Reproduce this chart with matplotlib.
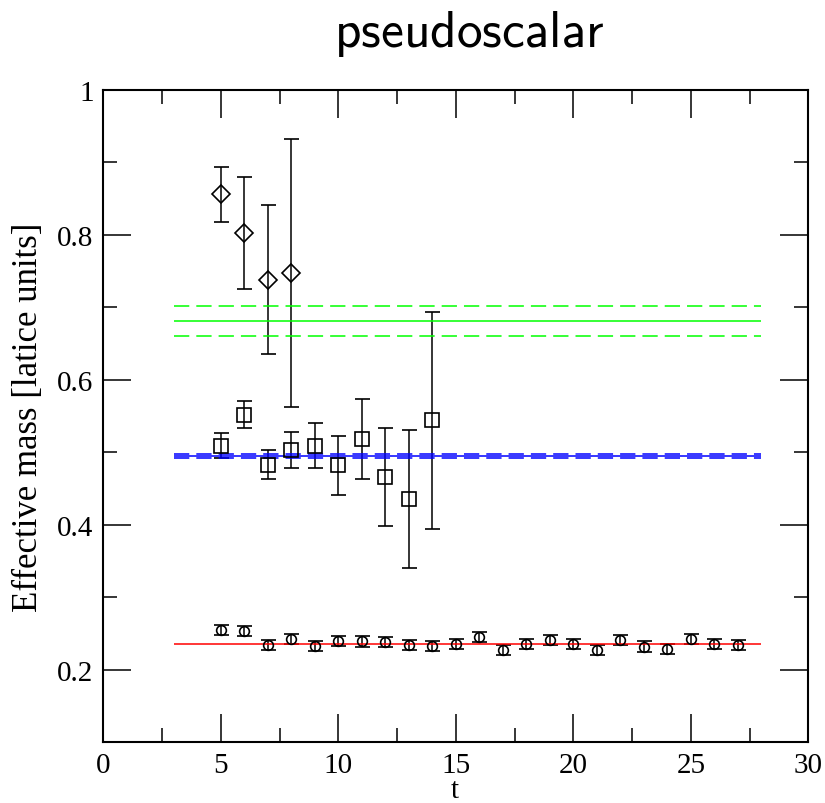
import numpy as np
import matplotlib
matplotlib.use("Agg")
import matplotlib.pyplot as plt
from matplotlib.ticker import MultipleLocator

# ── Data ──────────────────────────────────────────────────────────────────────
t_diamond = [5, 6, 7, 8]
m_diamond = [0.856, 0.802, 0.738, 0.747]
e_diamond = [0.038, 0.077, 0.103, 0.185]

t_square = [5, 6, 7, 8, 9, 10, 11, 12, 13, 14]
m_square = [0.509, 0.552, 0.483, 0.503, 0.509, 0.482, 0.518, 0.466, 0.435, 0.544]
e_square = [0.017, 0.018, 0.020, 0.025, 0.031, 0.041, 0.055, 0.068, 0.095, 0.150]

t_circle = list(range(5, 28))
m_circle = [0.255, 0.253, 0.234, 0.242, 0.233, 0.240, 0.239, 0.238, 0.234, 0.233,
            0.236, 0.245, 0.227, 0.236, 0.241, 0.236, 0.227, 0.241, 0.232, 0.228,
            0.242, 0.235, 0.234]
e_circle = [0.007] * len(t_circle)

# fit bands: (central, lower, upper)
fit_green = (0.681, 0.660, 0.702)
fit_blue = (0.495, 0.4916, 0.498)
fit_red = 0.235
fit_range = (3, 28)

plt.rcParams["mathtext.fontset"] = "cm"

# ── Figure ────────────────────────────────────────────────────────────────────
fig = plt.figure(figsize=(8.25, 8.04), dpi=100)
ax = fig.add_axes([0.1252, 0.0756, 0.8546, 0.8116])

eb_kw = dict(ls="none", color="black", mfc="none", mec="black",
             elinewidth=1.1, capthick=1.1, capsize=5.4, mew=1.2)
ax.errorbar(t_diamond, m_diamond, yerr=e_diamond, marker="D", ms=9.5, **eb_kw)
ax.errorbar(t_square, m_square, yerr=e_square, marker="s", ms=9.6, **eb_kw)
ax.errorbar(t_circle, m_circle, yerr=e_circle, marker="o", ms=7, **eb_kw)

x0, x1 = fit_range
dash = (0, (10, 4.6))
ax.hlines(fit_green[0], x0, x1, color="#00ff00", lw=1.1)
ax.hlines(fit_green[1:], x0, x1, color="#00ff00", lw=1.1, linestyles=dash)
ax.hlines(fit_blue[0], x0, x1, color="#0000ff", lw=1.1)
ax.hlines(fit_blue[1:], x0, x1, color="#0000ff", lw=1.1, linestyles=dash)
ax.hlines(fit_red, x0, x1, color="#ff0000", lw=1.1)

ax.set_xlim(0, 30)
ax.set_ylim(0.1, 1.0)
ax.xaxis.set_major_locator(MultipleLocator(5))
ax.xaxis.set_minor_locator(MultipleLocator(2.5))
ax.yaxis.set_minor_locator(MultipleLocator(0.1))
ax.set_yticks([0.2, 0.4, 0.6, 0.8, 1.0])
ax.set_yticklabels(["0.2", "0.4", "0.6", "0.8", "1"])

serif = "Liberation Serif"
ax.tick_params(which="both", direction="in", top=True, right=True, width=1.1)
ax.tick_params(which="major", length=20, labelsize=21, pad=7)
ax.tick_params(which="minor", length=10)
for lab in ax.get_xticklabels() + ax.get_yticklabels():
    lab.set_fontfamily(serif)
for s in ax.spines.values():
    s.set_linewidth(1.5)

ax.set_xlabel("t", fontsize=21, fontfamily=serif)
ax.xaxis.set_label_coords(0.4979, -0.053)
ax.set_ylabel("Effective mass [latice units]", fontsize=25, fontfamily=serif)
ax.yaxis.set_label_coords(-0.083, 0.5)
fig.text(0.5685, 0.942, r"$\mathsf{pseudoscalar}$", fontsize=37,
         ha="center", va="baseline")

fig.savefig("out.png", dpi=100)
